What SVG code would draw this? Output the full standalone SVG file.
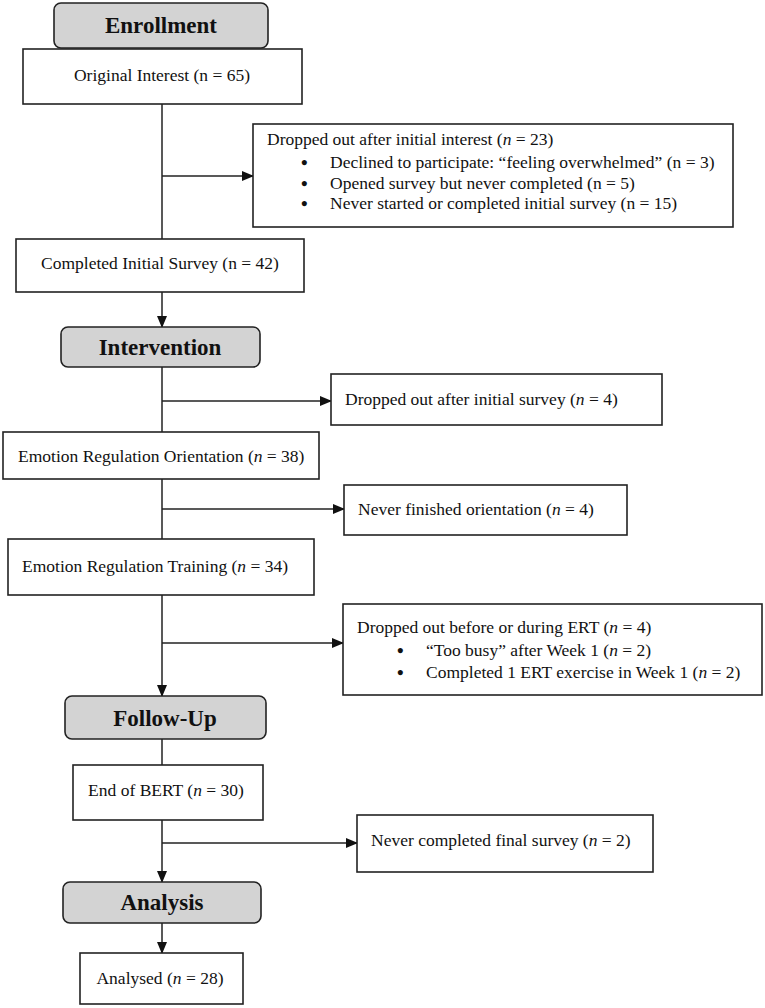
<svg xmlns="http://www.w3.org/2000/svg" width="765" height="1008" viewBox="0 0 765 1008">
<style>
.box{fill:#fff;stroke:#222;stroke-width:1.6}
.hdr{fill:#d3d3d3;stroke:#222;stroke-width:1.6}
.t{font-family:"Liberation Serif","Times New Roman",serif;font-size:17.5px;fill:#111}
.b{font-family:"Liberation Serif","Times New Roman",serif;font-size:19px;font-weight:bold;fill:#111}
.h{font-family:"Liberation Serif","Times New Roman",serif;font-size:23px;font-weight:bold;fill:#111}
.ln{stroke:#222;stroke-width:1.5;fill:none}
</style>
<defs>
<marker id="ah" markerWidth="12" markerHeight="10" refX="11" refY="5" orient="auto" markerUnits="userSpaceOnUse">
<path d="M0,0 L12,5 L0,10 Z" fill="#111"/>
</marker>
</defs>
<rect width="765" height="1008" fill="#fff"/>
<g id="connectors">
<line class="ln" x1="162" y1="104" x2="162" y2="239"/>
<line class="ln" x1="162" y1="176" x2="253" y2="176" marker-end="url(#ah)"/>
<line class="ln" x1="162" y1="292" x2="162" y2="327" marker-end="url(#ah)"/>
<line class="ln" x1="162" y1="367" x2="162" y2="432"/>
<line class="ln" x1="162" y1="401" x2="331" y2="401" marker-end="url(#ah)"/>
<line class="ln" x1="162" y1="479" x2="162" y2="539"/>
<line class="ln" x1="162" y1="509" x2="344" y2="509" marker-end="url(#ah)"/>
<line class="ln" x1="162" y1="595" x2="162" y2="696" marker-end="url(#ah)"/>
<line class="ln" x1="162" y1="643" x2="343" y2="643" marker-end="url(#ah)"/>
<line class="ln" x1="162" y1="739" x2="162" y2="765"/>
<line class="ln" x1="162" y1="820" x2="162" y2="882" marker-end="url(#ah)"/>
<line class="ln" x1="162" y1="843" x2="357" y2="843" marker-end="url(#ah)"/>
<line class="ln" x1="162" y1="923" x2="162" y2="953" marker-end="url(#ah)"/>
</g>
<g id="enrollment">
<rect class="hdr" x="54" y="3" width="214" height="45" rx="7"/>
<text class="h" x="161" y="33" text-anchor="middle">Enrollment</text>
</g>
<g id="original">
<rect class="box" x="23" y="49" width="279" height="55"/>
<text class="t" x="162" y="81" text-anchor="middle">Original Interest (n = 65)</text>
</g>
<g id="drop1">
<rect class="box" x="253" y="124" width="480" height="103"/>
<text class="t" x="267" y="145">Dropped out after initial interest (<tspan font-style="italic">n</tspan>  = 23)</text>
<text class="b" x="301" y="169">•</text>
<text class="t" x="330" y="168">Declined to participate: “feeling overwhelmed” (n = 3)</text>
<text class="b" x="301" y="190">•</text>
<text class="t" x="330" y="189">Opened survey but never completed (n = 5)</text>
<text class="b" x="301" y="210">•</text>
<text class="t" x="330" y="209">Never started or completed initial survey (n = 15)</text>
</g>
<g id="completed">
<rect class="box" x="16" y="239" width="288" height="53"/>
<text class="t" x="160" y="269" text-anchor="middle">Completed Initial Survey (n = 42)</text>
</g>
<g id="intervention">
<rect class="hdr" x="61" y="327" width="199" height="40" rx="7"/>
<text class="h" x="160" y="355" text-anchor="middle">Intervention</text>
</g>
<g id="drop2">
<rect class="box" x="331" y="374" width="331" height="51"/>
<text class="t" x="345" y="405">Dropped out after initial survey (<tspan font-style="italic">n</tspan> = 4)</text>
</g>
<g id="ero">
<rect class="box" x="3" y="432" width="316" height="47"/>
<text class="t" x="18" y="462">Emotion Regulation Orientation (<tspan font-style="italic">n</tspan> = 38)</text>
</g>
<g id="drop3">
<rect class="box" x="344" y="485" width="283" height="50"/>
<text class="t" x="358" y="515">Never finished orientation (<tspan font-style="italic">n</tspan> = 4)</text>
</g>
<g id="ert">
<rect class="box" x="8" y="539" width="306" height="56"/>
<text class="t" x="22" y="572">Emotion Regulation Training (<tspan font-style="italic">n</tspan> = 34)</text>
</g>
<g id="drop4">
<rect class="box" x="343" y="604" width="419" height="91"/>
<text class="t" x="357" y="633">Dropped out before or during ERT (<tspan font-style="italic">n</tspan> = 4)</text>
<text class="b" x="397" y="657">•</text>
<text class="t" x="426" y="656">“Too busy” after Week 1 (<tspan font-style="italic">n</tspan> = 2)</text>
<text class="b" x="397" y="679">•</text>
<text class="t" x="426" y="678">Completed 1 ERT exercise in Week 1 (<tspan font-style="italic">n</tspan> = 2)</text>
</g>
<g id="followup">
<rect class="hdr" x="65" y="696" width="201" height="43" rx="7"/>
<text class="h" x="165" y="726" text-anchor="middle">Follow-Up</text>
</g>
<g id="endbert">
<rect class="box" x="73" y="765" width="190" height="55"/>
<text class="t" x="166" y="796" text-anchor="middle">End of BERT (<tspan font-style="italic">n</tspan> = 30)</text>
</g>
<g id="drop5">
<rect class="box" x="357" y="815" width="296" height="57"/>
<text class="t" x="371" y="846">Never completed final survey (<tspan font-style="italic">n</tspan> = 2)</text>
</g>
<g id="analysis">
<rect class="hdr" x="63" y="882" width="198" height="41" rx="7"/>
<text class="h" x="162" y="910" text-anchor="middle">Analysis</text>
</g>
<g id="analysed">
<rect class="box" x="80" y="953" width="163" height="51"/>
<text class="t" x="160" y="984" text-anchor="middle">Analysed (<tspan font-style="italic">n</tspan> = 28)</text>
</g>
</svg>
